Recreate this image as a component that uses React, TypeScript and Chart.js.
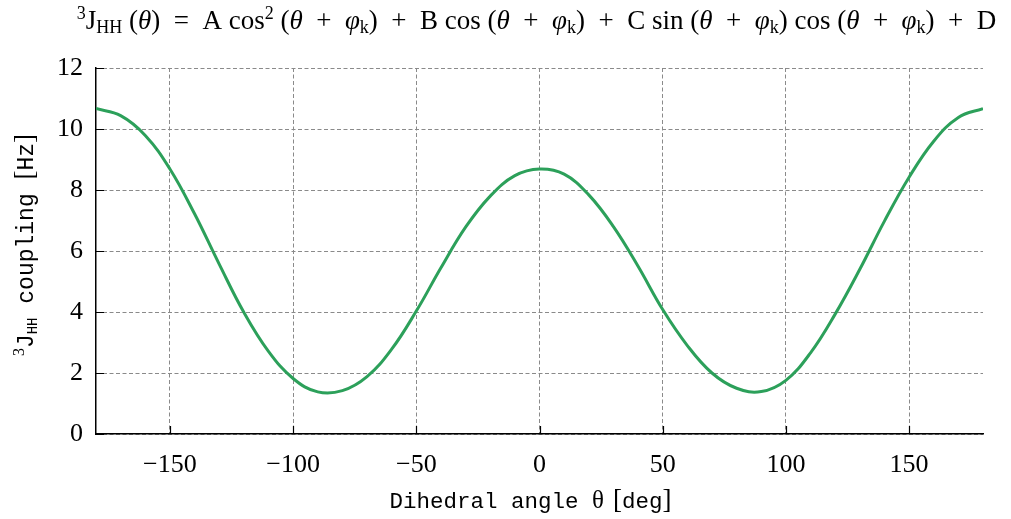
import { useEffect, useRef } from 'react';
import { Chart, registerables } from 'chart.js';

Chart.register(...registerables);

// Dihedral angle (deg) and the corresponding 3J(HH) coupling (Hz)
const dihedralAngles = [
  -180, -170, -160, -150, -140, -130, -120, -110, -100, -90, -80, -70, -60, -50, -40, -30, -20, -10, 0, 10, 20, 30,
  40, 50, 60, 70, 80, 90, 100, 110, 120, 130, 140, 150, 160, 170, 180,
];
const couplingHz = [
  10.67, 10.44, 9.79, 8.69, 7.22, 5.57, 3.99, 2.71, 1.82, 1.38, 1.42, 1.88, 2.78, 4.03, 5.45, 6.78, 7.8, 8.47, 8.69,
  8.52, 7.84, 6.8, 5.5, 4.08, 2.9, 2.0, 1.5, 1.39, 1.76, 2.66, 3.93, 5.4, 6.98, 8.42, 9.6, 10.38, 10.67,
];
const xTickValues = [-150, -100, -50, 0, 50, 100, 150];
const yTickValues = [0, 2, 4, 6, 8, 10, 12];

const SERIF = '"Liberation Serif", "DejaVu Serif", serif';
const MONO = '"Liberation Mono", "DejaVu Sans Mono", monospace';
const LINE_GREEN = 'rgb(44, 160, 90)';

type Seg = { t: string; font: string; dy?: number };

function drawRich(ctx: CanvasRenderingContext2D, segs: Seg[], cx: number, baseline: number) {
  ctx.textAlign = 'left';
  ctx.textBaseline = 'alphabetic';
  let total = 0;
  for (const s of segs) {
    ctx.font = s.font;
    total += ctx.measureText(s.t).width;
  }
  let x = cx - total / 2;
  for (const s of segs) {
    ctx.font = s.font;
    ctx.fillText(s.t, x, baseline + (s.dy || 0));
    x += ctx.measureText(s.t).width;
  }
}

const tBase = `27px ${SERIF}`;
const tIt = `italic 27px ${SERIF}`;
const tSmall = `18px ${SERIF}`;
const EN = '\u2002';

const op = (sym: string): Seg => ({ t: `${EN}${sym}${EN}`, font: tBase });

function phaseArg(): Seg[] {
  return [
    { t: '(', font: tBase },
    { t: 'θ', font: tIt },
    op('+'),
    { t: 'φ', font: tIt },
    { t: 'k', font: tSmall, dy: 4 },
    { t: ')', font: tBase },
  ];
}

const titleSegs: Seg[] = [
  { t: '3', font: tSmall, dy: -10 },
  { t: 'J', font: tBase },
  { t: 'HH', font: tSmall, dy: 4 },
  { t: ' (', font: tBase },
  { t: 'θ', font: tIt },
  { t: ')', font: tBase },
  op('='),
  { t: 'A cos', font: tBase },
  { t: '2', font: tSmall, dy: -10 },
  { t: ' ', font: tBase },
  ...phaseArg(),
  op('+'),
  { t: 'B cos ', font: tBase },
  ...phaseArg(),
  op('+'),
  { t: 'C sin ', font: tBase },
  ...phaseArg(),
  { t: ' cos ', font: tBase },
  ...phaseArg(),
  op('+'),
  { t: 'D', font: tBase },
];

const xTitleSegs: Seg[] = [
  { t: 'Dihedral angle ', font: `22.5px ${MONO}` },
  { t: 'θ', font: `25px ${SERIF}` },
  { t: '   ', font: `12px ${SERIF}` },
  { t: '[', font: `27px ${SERIF}` },
  { t: 'deg', font: `22.5px ${MONO}` },
  { t: ']', font: `27px ${SERIF}` },
];

const yTitleSegs: Seg[] = [
  { t: '3', font: `16px ${SERIF}`, dy: -9 },
  { t: 'J', font: `23px ${MONO}` },
  { t: 'HH', font: `14px ${MONO}`, dy: 4 },
  { t: ' coupling ', font: `23px ${MONO}` },
  { t: '[', font: `27px ${SERIF}` },
  { t: 'Hz', font: `23px ${MONO}` },
  { t: ']', font: `27px ${SERIF}` },
];

// Inward tick marks plus the rich-text title and axis titles
const decorations = {
  id: 'decorations',
  afterDraw(chart: Chart) {
    const { ctx, chartArea } = chart;
    const xs = chart.scales.x;
    const ys = chart.scales.y;
    ctx.save();
    ctx.strokeStyle = '#000';
    ctx.lineWidth = 1.2;
    ctx.beginPath();
    for (const v of xTickValues) {
      const px = Math.round(xs.getPixelForValue(v)) + 0.5;
      ctx.moveTo(px, chartArea.bottom);
      ctx.lineTo(px, chartArea.bottom - 8);
    }
    for (const v of yTickValues) {
      const py = Math.round(ys.getPixelForValue(v)) + 0.5;
      ctx.moveTo(chartArea.left, py);
      ctx.lineTo(chartArea.left + 8, py);
    }
    ctx.stroke();

    ctx.fillStyle = '#000';
    const midX = (chartArea.left + chartArea.right) / 2;
    drawRich(ctx, titleSegs, midX - 3, 29);
    drawRich(ctx, xTitleSegs, midX - 9, 508);

    ctx.save();
    ctx.translate(33, (chartArea.top + chartArea.bottom) / 2 - 6);
    ctx.rotate(-Math.PI / 2);
    drawRich(ctx, yTitleSegs, 0, 0);
    ctx.restore();
    ctx.restore();
  },
};

export default function App() {
  const canvasRef = useRef<HTMLCanvasElement | null>(null);

  useEffect(() => {
    const canvas = canvasRef.current;
    if (!canvas) return;
    const chart = new Chart(canvas, {
      type: 'line',
      data: {
        datasets: [
          {
            data: dihedralAngles.map((a, i) => ({ x: a, y: couplingHz[i] })),
            borderColor: LINE_GREEN,
            borderWidth: 3,
            pointRadius: 0,
            tension: 0.4,
            fill: false,
          },
        ],
      },
      options: {
        responsive: false,
        devicePixelRatio: 1,
        animation: false,
        layout: { padding: { top: 68, right: 28, left: 0, bottom: 0 } },
        plugins: {
          legend: { display: false },
          title: { display: false },
          tooltip: { enabled: false },
        },
        scales: {
          x: {
            type: 'linear',
            min: -180,
            max: 180,
            afterBuildTicks: (scale: any) => {
              scale.ticks = xTickValues.map((v) => ({ value: v }));
            },
            afterFit: (scale: any) => {
              scale.height = 85;
            },
            ticks: {
              color: '#000',
              font: { family: SERIF, size: 26 },
              padding: 16,
              maxRotation: 0,
              callback: (v: any) => (Number(v) < 0 ? '−' + Math.abs(Number(v)) : String(v)),
            },
            grid: { color: '#8a8a8a', lineWidth: 1, drawTicks: false },
            border: { display: true, color: '#000', width: 1.5, dash: [4, 2.5] },
          },
          y: {
            type: 'linear',
            min: 0,
            max: 12,
            afterBuildTicks: (scale: any) => {
              scale.ticks = yTickValues.map((v) => ({ value: v }));
            },
            afterFit: (scale: any) => {
              scale.width = 96;
            },
            ticks: {
              color: '#000',
              font: { family: SERIF, size: 26 },
              padding: 13,
            },
            grid: { color: '#8a8a8a', lineWidth: 1, drawTicks: false },
            border: { display: true, color: '#000', width: 1.5, dash: [4, 2.5] },
          },
        },
      },
      plugins: [decorations],
    });
    return () => chart.destroy();
  }, []);

  return (
    <div style={{ position: 'fixed', left: 0, top: 0, width: 1011, height: 519, background: '#fff' }}>
      <canvas ref={canvasRef} width={1011} height={519} style={{ display: 'block' }} />
    </div>
  );
}
